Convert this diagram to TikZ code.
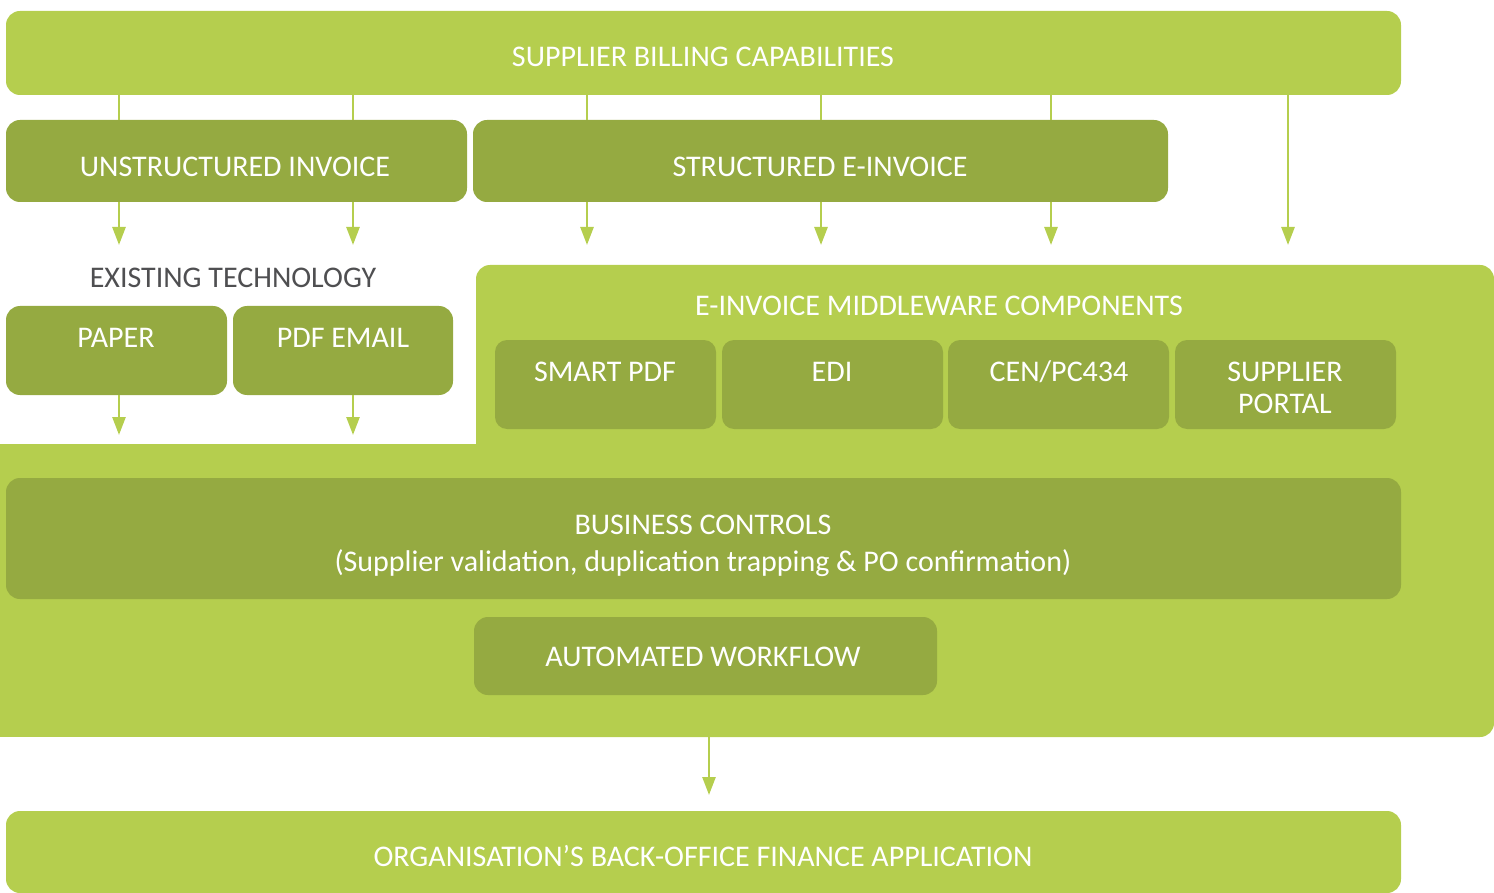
\documentclass[tikz,border=0pt]{standalone}
\usepackage{fontspec}
\setmainfont{Carlito}
\usetikzlibrary{arrows.meta}
\definecolor{lg}{HTML}{B5CE4E}
\definecolor{dg}{HTML}{95AA41}
\definecolor{greytext}{HTML}{4F4F51}
\tikzset{
  box/.style={draw=none, rounded corners=14pt, inner sep=0pt, outer sep=0pt},
  lbox/.style={box, fill=lg},
  dbox/.style={box, fill=dg},
  sbox/.style={box, fill=dg, rounded corners=12pt, minimum width=221pt, minimum height=89pt},
  txt/.style={anchor=base, inner sep=0pt, text=white, font=\fontsize{30}{36}\selectfont},
  gtxt/.style={txt, text=greytext},
  conn/.style={draw=lg, line width=2.6pt},
  arr/.style={conn, -{Triangle[width=13pt,length=18pt]}, lg},
}
\begin{document}
\begin{tikzpicture}[x=1pt,y=-1pt]
\useasboundingbox (0,0) rectangle (1494,893);
% big middleware / processing area
\fill[lg, rounded corners=14pt] (476,265) rectangle (1494,737);
\fill[lg] (0,444) rectangle (600,737);

% boxes
\node[lbox, minimum width=1395pt, minimum height=84pt] (top) at (703.5,53) {};
\node[dbox, minimum width=461pt, minimum height=82pt] (unstr) at (236.5,161) {};
\node[dbox, minimum width=695pt, minimum height=82pt] (str) at (820.5,161) {};
\node[dbox, minimum width=221pt, minimum height=89pt] (paper) at (116.5,350.5) {};
\node[dbox, minimum width=220pt, minimum height=89pt] (pdf) at (343,350.5) {};
\node[sbox] (smart) at (605.5,384.5) {};
\node[sbox] (edi) at (832.5,384.5) {};
\node[sbox] (cen) at (1058.5,384.5) {};
\node[sbox] (portal) at (1285.5,384.5) {};
\node[dbox, minimum width=1395pt, minimum height=121pt] (bc) at (703.5,538.5) {};
\node[dbox, minimum width=463pt, minimum height=78pt] (aw) at (705.5,656) {};
\node[lbox, minimum width=1395pt, minimum height=82pt] (org) at (703.5,852) {};

% texts
\node[txt] (ttop) at (703,67) {SUPPLIER BILLING CAPABILITIES};
\node[txt] (tunstr) at (235,176.5) {UNSTRUCTURED INVOICE};
\node[txt] (tstr) at (820,176.5) {STRUCTURED E-INVOICE};
\node[gtxt] (texist) at (233,287.5) {EXISTING TECHNOLOGY};
\node[txt] (tpaper) at (116,348) {PAPER};
\node[txt] (tpdf) at (343,348) {PDF EMAIL};
\node[txt] (tmid) at (939,316) {E-INVOICE MIDDLEWARE COMPONENTS};
\node[txt] (tsmart) at (605,381.5) {SMART PDF};
\node[txt] (tedi) at (832,381.5) {EDI};
\node[txt] (tcen) at (1059,381.5) {CEN/PC434};
\node[txt] (tportala) at (1285,381.5) {SUPPLIER};
\node[txt] (tportalb) at (1285,413) {PORTAL};
\node[txt] (tbca) at (703,534) {BUSINESS CONTROLS};
\node[txt] (tbcb) at (703,571) {(Supplier validation, duplication trapping \& PO confirmation)};
\node[txt] (taw) at (703,666.5) {AUTOMATED WORKFLOW};
\node[txt] (torg) at (703,866) {ORGANISATION’S BACK-OFFICE FINANCE APPLICATION};

% arrow end points
\coordinate (a1) at (119,245);
\coordinate (a2) at (353,245);
\coordinate (a3) at (587,245);
\coordinate (a4) at (821,245);
\coordinate (a5) at (1051,245);
\coordinate (a6) at (1288,245);
\coordinate (b1) at (119,435);
\coordinate (b2) at (353,435);
\coordinate (bigb) at (709,737);
\coordinate (c1) at (709,795);

% connectors
\draw[conn] (top.south -| a1) -- (unstr.north -| a1);
\draw[conn] (top.south -| a2) -- (unstr.north -| a2);
\draw[conn] (top.south -| a3) -- (str.north -| a3);
\draw[conn] (top.south -| a4) -- (str.north -| a4);
\draw[conn] (top.south -| a5) -- (str.north -| a5);
\draw[arr] (unstr.south -| a1) -- (a1);
\draw[arr] (unstr.south -| a2) -- (a2);
\draw[arr] (str.south -| a3) -- (a3);
\draw[arr] (str.south -| a4) -- (a4);
\draw[arr] (str.south -| a5) -- (a5);
\draw[arr] (top.south -| a6) -- (a6);
\draw[arr] (paper.south -| b1) -- (b1);
\draw[arr] (pdf.south -| b2) -- (b2);
\draw[arr] (bigb) -- (c1);
\end{tikzpicture}
\end{document}
